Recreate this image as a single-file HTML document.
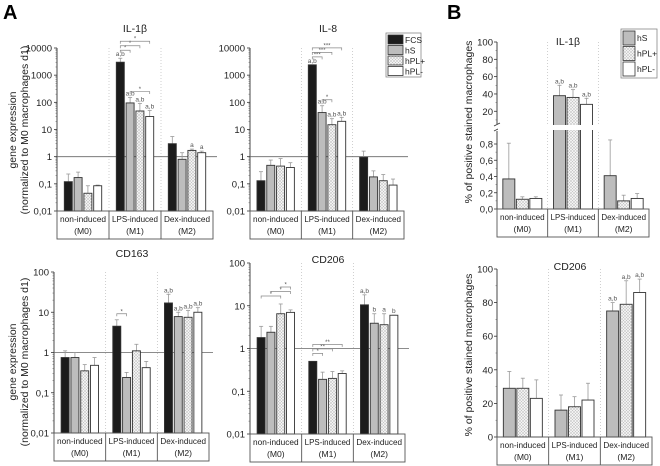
<!DOCTYPE html>
<html><head><meta charset="utf-8"><style>
html,body{margin:0;padding:0;background:#fff}
svg{display:block;font-family:"Liberation Sans",sans-serif}
</style></head><body>
<svg id="fig" width="660" height="466" viewBox="0 0 660 466" xmlns="http://www.w3.org/2000/svg">
<defs>
<pattern id="dots" width="3" height="3" patternUnits="userSpaceOnUse">
<rect width="3" height="3" fill="#f2f2f2"/><circle cx="1" cy="1" r="0.6" fill="#9a9a9a"/><circle cx="2.5" cy="2.5" r="0.5" fill="#b5b5b5"/>
</pattern>
</defs>
<text x="3" y="19" font-size="20" font-weight="bold">A</text>
<text x="447" y="19" font-size="20" font-weight="bold">B</text>
<g font-size="10.5" fill="#222" text-anchor="middle">
<text transform="translate(16,130) rotate(-90)">gene expression</text>
<text transform="translate(28,130) rotate(-90)">(normalized to M0 macrophages d1)</text>
</g>
<g font-size="10.5" fill="#222" text-anchor="middle">
<text transform="translate(16,362) rotate(-90)">gene expression</text>
<text transform="translate(28,362) rotate(-90)">(normalized to M0 macrophages d1)</text>
</g>
<text transform="translate(472,122) rotate(-90)" font-size="10.5" fill="#222" text-anchor="middle">% of positive stained macrophages</text>
<text transform="translate(472,355) rotate(-90)" font-size="10.5" fill="#222" text-anchor="middle">% of positive stained macrophages</text>
<g id="legA">
<rect x="386" y="33" width="35" height="44" fill="#fff" stroke="#888" stroke-width="0.8"/>
</g>
<g id="legB">
<rect x="621" y="29" width="36" height="49" fill="#fff" stroke="#888" stroke-width="0.8"/>
</g>
</svg>
<script>
// ---- data ----
const groups = ["non-induced", "LPS-induced", "Dex-induced"];
const groupSub = ["(M0)", "(M1)", "(M2)"];
const seriesA = ["FCS", "hS", "hPL+", "hPL-"];
const seriesB = ["hS", "hPL+", "hPL-"];
const logTicks4 = ["10000", "1000", "100", "10", "1", "0,1", "0,01"];
const logTicks2 = ["100", "10", "1", "0,1", "0,01"];
const il1bVals = [[0.12,0.17,0.045,0.085],[3000,95,48,30],[3,0.8,1.7,1.4]];
const il1bErr  = [[0.23,0.27,0.085,0.09],[4200,150,90,50],[5.5,1.4,1.9,1.6]];
const il1bAnn  = [["","","",""],["a,b","a,b","a,b","a,b"],["","","a","a"]];
const il8Vals = [[0.13,0.48,0.45,0.4],[2400,42,15,20],[0.95,0.18,0.13,0.09]];
const il8Err  = [[0.28,0.75,0.85,0.6],[2400,75,25,28],[1.6,0.3,0.22,0.15]];
const il8Ann  = [["","","",""],["a,b","a,b","a,b","a,b"],["","","",""]];
const cd163Vals = [[0.75,0.75,0.35,0.48],[4.5,0.24,1.1,0.42],[17,7.8,7.5,10]];
const cd163Err  = [[1.1,1.0,0.5,0.75],[6.5,0.32,1.6,0.6],[28,10,11,13]];
const cd163Ann  = [["","","",""],["","","",""],["a,b","a,b","a,b","a,b"]];
const cd206Vals = [[1.8,2.4,6.5,7],[0.5,0.19,0.2,0.26],[10.5,3.9,3.6,6]];
const cd206Err  = [[3.3,3.3,11,8],[0.5,0.28,0.29,0.3],[18,6.5,6.5,6]];
const cd206Ann  = [["","","",""],["","","",""],["a,b","b","a","b"]];
const bIl1bVals = [[0.37,0.12,0.13],[38,36,28],[0.41,0.10,0.13]];
const bIl1bErr  = [[0.81,0.15,0.15],[50,45,35],[0.85,0.17,0.19]];
const bIl1bAnn  = [["","",""],["a,b","a,b","a,b"],["","",""]];
const bCd206Vals = [[29,29,23],[16,18,22],[75,79,86]];
const bCd206Err  = [[39,35,34],[25,24,32],[80,93,94]];
const bCd206Ann  = [["","",""],["","",""],["a,b","a,b","a,b"]];
const bTicksTop = ["100","80","60","40","20"];
const bTickTopVals = [100,80,60,40,20];
const bTicksLow = ["0,8","0,6","0,4","0,2","0,0"];
const bTickLowVals = [0.8,0.6,0.4,0.2,0];
const bTicks2 = ["100","80","60","40","20","0"];
const bTick2Vals = [100,80,60,40,20,0];
// significance brackets: [group, barA, barB, level, label]
const il1bSig = [[1,0,1,0,"*"],[1,0,2,1,"*"],[1,0,3,2,"*"],[1,1,3,-1,"*"]];
const il8Sig = [[1,0,1,0,"***"],[1,0,2,1,"***"],[1,0,3,2,"***"],[1,1,2,-1,"*"]];
const cd163Sig = [[1,0,1,-1,"*"]];
const cd206Sig = [[0,0,2,0,"*"],[0,1,3,1,"*"],[0,2,3,2,"*"],[1,0,1,0,"*"],[1,0,2,1,"**"],[1,0,3,2,"**"]];

const NS = "http://www.w3.org/2000/svg";
const svg = document.getElementById("fig");
function mk(tag, attrs, parent, txt){
  const e = document.createElementNS(NS, tag);
  for (const k in attrs) e.setAttribute(k, attrs[k]);
  if (txt !== undefined) e.textContent = txt;
  (parent || svg).appendChild(e);
  return e;
}
const fillA = ["#1c1c1c", "#bdbdbd", "url(#dots)", "#ffffff"];
const fillB = ["#bdbdbd", "url(#dots)", "#ffffff"];

function categoryBox(g, x0, x1, yTop, yBot){
  const box = mk("g", {}, g);
  
  
  mk("rect", {x:x0, y:yTop, width:x1-x0, height:yBot-yTop, fill:"none", stroke:"#555", "stroke-width":0.9}, box);
  const gw = (x1-x0)/3;
  for (let i=0;i<3;i++){
    if (i>0) mk("line", {x1:x0+gw*i, x2:x0+gw*i, y1:yTop, y2:yBot, stroke:"#555", "stroke-width":0.9}, box);
    const t = mk("text", {x:x0+gw*(i+0.5), y:yTop+11, "font-size":8.6, "text-anchor":"middle", fill:"#222", textLength:gw-6, lengthAdjust:"spacingAndGlyphs"}, box, groups[i]);
    
    
    mk("text", {x:x0+gw*(i+0.5), y:yTop+23, "font-size":8.6, "text-anchor":"middle", fill:"#222"}, box, groupSub[i]);
  }
}

function panel(cfg){
  const g = mk("g", {});
  
  
  const {x0, x1, yTop, yBot, boxBot, scale} = cfg;
  const gw = (x1-x0)/3;
  for (let i=1;i<3;i++) mk("line", {x1:x0+gw*i, x2:x0+gw*i, y1:yTop, y2:yBot, stroke:"#bbb", "stroke-width":0.7, "stroke-dasharray":"1,2"}, g);
  const ax = mk("g", {}, g);
  
  
  cfg.axis(ax);
  if (cfg.refLine) mk("line", {x1:x0, x2:x1+4, y1:scale(1), y2:scale(1), stroke:"#666", "stroke-width":0.8}, g);
  const t = mk("text", {x:cfg.tx, y:cfg.ty, "font-size":10.5, "text-anchor":"middle", fill:"#222"}, g, cfg.title);
  
  
  const n = cfg.series.length;
  const bw = cfg.bw, gap = cfg.gap;
  const off = (gw - (n*bw + (n-1)*gap))/2;
  const barX = (gi, si) => x0 + gw*gi + off + si*(bw+gap);
  for (let gi=0; gi<3; gi++){
    for (let si=0; si<n; si++){
      const v = cfg.vals[gi][si], e = cfg.err[gi][si];
      const x = barX(gi, si);
      const y = scale(v), ye = scale(e);
      const base = cfg.base;
      const eb = mk("line", {x1:x+bw/2, x2:x+bw/2, y1:y, y2:ye, stroke:"#999", "stroke-width":0.8}, g);
      
      
      mk("line", {x1:x+bw/2-2, x2:x+bw/2+2, y1:ye, y2:ye, stroke:"#999", "stroke-width":0.8}, g);
      const r = mk("rect", {x:x, y:y, width:bw, height:Math.max(0, base-y), fill:cfg.fills[si], stroke:"#333", "stroke-width":0.9}, g);
      
      
      if (cfg.ann[gi][si]) mk("text", {x:x+bw/2, y:ye-2, "font-size":6.5, "text-anchor":"middle", fill:"#555"}, g, cfg.ann[gi][si]);
    }
  }
  if (cfg.breakGap){
    mk("rect", {x:x0+1, y:cfg.breakGap[0], width:x1-x0-1, height:cfg.breakGap[1]-cfg.breakGap[0], fill:"#fff"}, g);
  }
  (cfg.sig||[]).forEach(s => {
    const [gi,a,b,lvl,lab] = s;
    let yb;
    if (lvl < 0) {
      let topV = 0;
      for (let si=a; si<=b; si++) topV = Math.max(topV, cfg.err[gi][si]);
      yb = scale(topV) - 6;
    } else {
      let mx = 0;
      for (let si=0; si<n; si++) mx = Math.max(mx, cfg.err[gi][si]);
      yb = scale(mx) - 8 - lvl*4.5;
    }
    const xa = barX(gi,a)+cfg.bw/2, xb = barX(gi,b)+cfg.bw/2;
    const br = mk("path", {d:`M${xa},${yb+2.5}V${yb}H${xb}V${yb+2.5}`, fill:"none", stroke:"#888", "stroke-width":0.7}, g);
    
    
    mk("text", {x:(xa+xb)/2, y:yb-0.5, "font-size":6, "text-anchor":"middle", fill:"#555"}, g, lab);
  });
  categoryBox(g, x0, x1, yBot, boxBot);
}

function logScale(top, bot, decHigh, decLow){
  return v => bot - (Math.log10(v) - decLow) / (decHigh - decLow) * (bot - top);
}
function logAxis(x0, top, bot, decHigh, decLow, labels){
  return ax => {
    mk("line", {x1:x0, x2:x0, y1:top, y2:bot, stroke:"#333", "stroke-width":0.9}, ax);
    const s = logScale(top, bot, decHigh, decLow);
    for (let d=decHigh, i=0; d>=decLow; d--, i++){
      const y = s(Math.pow(10,d));
      mk("line", {x1:x0-3, x2:x0, y1:y, y2:y, stroke:"#333", "stroke-width":0.8}, ax);
      mk("text", {x:x0-5, y:y+3.5, "font-size":9.5, "text-anchor":"end", fill:"#222"}, ax, labels[i]);
      if (d > decLow) for (let m=2;m<10;m++){
        const ym = s(m*Math.pow(10,d-1));
        mk("line", {x1:x0-1.5, x2:x0, y1:ym, y2:ym, stroke:"#555", "stroke-width":0.5}, ax);
      }
    }
  };
}

const legA = document.getElementById("legA");
seriesA.forEach((s,i) => {
  const y = 35 + i*10.5;
  const sw = mk("rect", {x:388, y:y, width:15, height:9, fill:fillA[i], stroke:"#333", "stroke-width":0.8}, legA);
  
  
  mk("text", {x:405, y:y+8, "font-size":8.5, fill:"#222"}, legA, s);
});
const legB = document.getElementById("legB");
seriesB.forEach((s,i) => {
  const y = 31 + i*15.5;
  const sw = mk("rect", {x:623, y:y, width:12, height:14, fill:fillB[i], stroke:"#333", "stroke-width":0.8}, legB);
  
  
  mk("text", {x:637, y:y+10, "font-size":8.5, fill:"#222"}, legB, s);
});

[
  {name:"chart-il1b-gene", x0:57, x1:213, yTop:48, yBot:211, boxBot:239, dh:4, dl:-2, lab:logTicks4, title:"IL-1β", tx:135, ty:32, vals:il1bVals, err:il1bErr, ann:il1bAnn, sig:il1bSig},
  {name:"chart-il8-gene", x0:250, x1:404, yTop:48, yBot:211, boxBot:239, dh:4, dl:-2, lab:logTicks4, title:"IL-8", tx:328, ty:32, vals:il8Vals, err:il8Err, ann:il8Ann, sig:il8Sig},
  {name:"chart-cd163-gene", x0:54, x1:209, yTop:272, yBot:433, boxBot:461, dh:2, dl:-2, lab:logTicks2, title:"CD163", tx:132, ty:257, vals:cd163Vals, err:cd163Err, ann:cd163Ann, sig:cd163Sig},
  {name:"chart-cd206-gene", x0:250, x1:405, yTop:263, yBot:434, boxBot:462, dh:2, dl:-2, lab:logTicks2, title:"CD206", tx:328, ty:263, vals:cd206Vals, err:cd206Err, ann:cd206Ann, sig:cd206Sig}
].forEach(c => {
  const sc = logScale(c.yTop, c.yBot, c.dh, c.dl);
  panel(Object.assign({}, c, {scale:sc, base:c.yBot, bw:8, gap:1.8, series:seriesA, fills:fillA, refLine:true,
    axis:logAxis(c.x0, c.yTop, c.yBot, c.dh, c.dl, c.lab)}));
});

(function(){
  const x0=497, top=42, bot=209;
  const up = v => 42 + (100 - v) * 0.866;
  const low = v => 209 - v * 81.25;
  const sc = v => v < 1 ? low(v) : up(v);
  panel({name:"chart-il1b-protein", x0:x0, x1:649, yTop:top, yBot:bot, boxBot:237, scale:sc, base:bot, bw:12, gap:1.5,
    series:seriesB, fills:fillB, vals:bIl1bVals, err:bIl1bErr, ann:bIl1bAnn, title:"IL-1β", tx:568, ty:45, breakGap:[125,130],
    axis: ax => {
      mk("line", {x1:x0, x2:x0, y1:top, y2:124, stroke:"#333", "stroke-width":0.9}, ax);
      mk("line", {x1:x0, x2:x0, y1:131, y2:bot, stroke:"#333", "stroke-width":0.9}, ax);
      mk("path", {d:`M${x0-3},126 L${x0+3},123 M${x0-3},131 L${x0+3},128`, stroke:"#333", "stroke-width":0.8, fill:"none"}, ax);
      bTickTopVals.forEach((v,i) => {
        const y = up(v);
        mk("line", {x1:x0-3, x2:x0, y1:y, y2:y, stroke:"#333", "stroke-width":0.8}, ax);
        mk("line", {x1:x0-1.5, x2:x0, y1:up(v-10), y2:up(v-10), stroke:"#555", "stroke-width":0.5}, ax);
        mk("text", {x:x0-4, y:y+3.5, "font-size":9.5, "text-anchor":"end", fill:"#222"}, ax, bTicksTop[i]);
      });
      bTickLowVals.forEach((v,i) => {
        const y = low(v);
        mk("line", {x1:x0-3, x2:x0, y1:y, y2:y, stroke:"#333", "stroke-width":0.8}, ax);
        if (v < 0.8) mk("line", {x1:x0-1.5, x2:x0, y1:low(v+0.1), y2:low(v+0.1), stroke:"#555", "stroke-width":0.5}, ax);
        mk("text", {x:x0-4, y:y+3.5, "font-size":9.5, "text-anchor":"end", fill:"#222"}, ax, bTicksLow[i]);
      });
    }});
})();

(function(){
  const x0=497, top=269, bot=437;
  const sc = v => bot - v/100*(bot-top);
  panel({name:"chart-cd206-protein", x0:x0, x1:652, yTop:top, yBot:bot, boxBot:465, scale:sc, base:bot, bw:12, gap:1.5,
    series:seriesB, fills:fillB, vals:bCd206Vals, err:bCd206Err, ann:bCd206Ann, title:"CD206", tx:570, ty:270,
    axis: ax => {
      mk("line", {x1:x0, x2:x0, y1:top, y2:bot, stroke:"#333", "stroke-width":0.9}, ax);
      bTick2Vals.forEach((v,i) => {
        const y = sc(v);
        mk("line", {x1:x0-3, x2:x0, y1:y, y2:y, stroke:"#333", "stroke-width":0.8}, ax);
        if (v > 0) mk("line", {x1:x0-1.5, x2:x0, y1:sc(v-10), y2:sc(v-10), stroke:"#555", "stroke-width":0.5}, ax);
        mk("text", {x:x0-4, y:y+3.5, "font-size":9.5, "text-anchor":"end", fill:"#222"}, ax, bTicks2[i]);
      });
    }});
})();
</script>
</body></html>
